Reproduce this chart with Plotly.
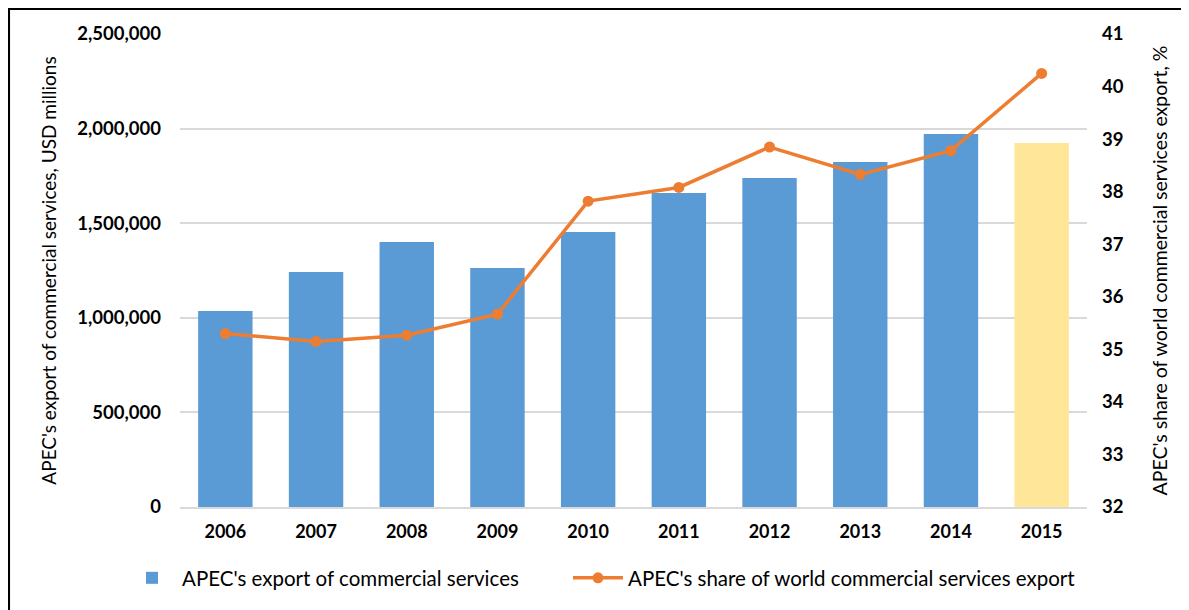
import plotly.graph_objects as go

years = ["2006", "2007", "2008", "2009", "2010", "2011", "2012", "2013", "2014", "2015"]
export_values = [1036000, 1242000, 1400000, 1263000, 1453000, 1660000, 1739000, 1823000, 1971000, 1924000]
share_values = [35.3, 35.15, 35.27, 35.67, 37.82, 38.08, 38.85, 38.33, 38.78, 40.25]
bar_colors = ["#5B9BD5"] * 9 + ["#FFE699"]

FONT = "Lato"
OFF = 8  # page body margin offset

fig = go.Figure()
fig.add_trace(go.Bar(
    x=years, y=export_values, name="APEC's export of commercial services",
    marker=dict(color=bar_colors, line=dict(width=0)), yaxis="y", legend="legend",
))
fig.add_trace(go.Scatter(
    x=years, y=share_values, name="APEC's share of world commercial services export",
    mode="lines+markers", line=dict(color="#ED7D31", width=3.5),
    marker=dict(color="#ED7D31", size=11), yaxis="y2", legend="legend2",
))

# target geometry in screenshot pixels
px_l, px_t, plot_w, plot_h = 180, 34, 907, 473
W, H = 1189 - OFF, 610 - OFF
def xp(px):
    return (px - px_l) / plot_w
def yp(py):
    return 1 - (py - px_t) / plot_h

fig.add_shape(type="line", xref="paper", yref="paper", x0=xp(OFF + 0.8), x1=xp(OFF + 0.8),
              y0=yp(700), y1=yp(OFF + 0.5), line=dict(color="black", width=2.5))
fig.add_shape(type="line", xref="paper", yref="paper", x0=xp(OFF), x1=xp(1300),
              y0=yp(OFF + 0.8), y1=yp(OFF + 0.8), line=dict(color="black", width=2.5))

legend_font = dict(family=FONT, size=20.5, color="#000000")

fig.update_layout(
    width=W, height=H,
    margin=dict(l=px_l - OFF, r=W - (px_l - OFF) - plot_w, t=px_t - OFF, b=H - (px_t - OFF) - plot_h,
                autoexpand=False),
    paper_bgcolor="white", plot_bgcolor="white",
    font=dict(family=FONT, color="#000000", size=16),
    bargap=0.4,
    showlegend=True,
    legend=dict(orientation="h", x=xp(122), xanchor="left", y=yp(578), yanchor="middle",
                font=legend_font, itemwidth=50),
    legend2=dict(orientation="h", x=xp(568), xanchor="left", y=yp(578), yanchor="middle",
                 font=legend_font, itemwidth=50),
    xaxis=dict(
        type="category", range=[-0.5, len(years) - 0.5],
        showgrid=False, showline=True, linecolor="#D9D9D9", linewidth=1.5,
        ticks="", tickfont=dict(family=FONT, size=18, color="#000000", weight="bold"),
        ticklabelstandoff=8, automargin=False,
    ),
    yaxis=dict(
        range=[0, 2500000], dtick=500000, tickformat=",", showgrid=True, gridcolor="#D9D9D9",
        gridwidth=1.5, zeroline=False, showline=False, ticks="",
        tickfont=dict(family=FONT, size=18.5, color="#000000", weight="bold"),
        ticklabelstandoff=18, automargin=False,
        title=dict(text="APEC's export of commercial services, USD millions",
                   font=dict(family=FONT, size=19, color="#000000"), standoff=15),
    ),
    yaxis2=dict(
        range=[32, 41], dtick=1, overlaying="y", side="right", showgrid=False, zeroline=False,
        showline=False, ticks="", automargin=False,
        tickfont=dict(family=FONT, size=18.5, color="#000000", weight="bold"),
        ticklabelstandoff=14,
        title=dict(text="APEC's share of world commercial services export, %",
                   font=dict(family=FONT, size=19.5, color="#000000"), standoff=30),
    ),
)

fig.write_html("out.html")
